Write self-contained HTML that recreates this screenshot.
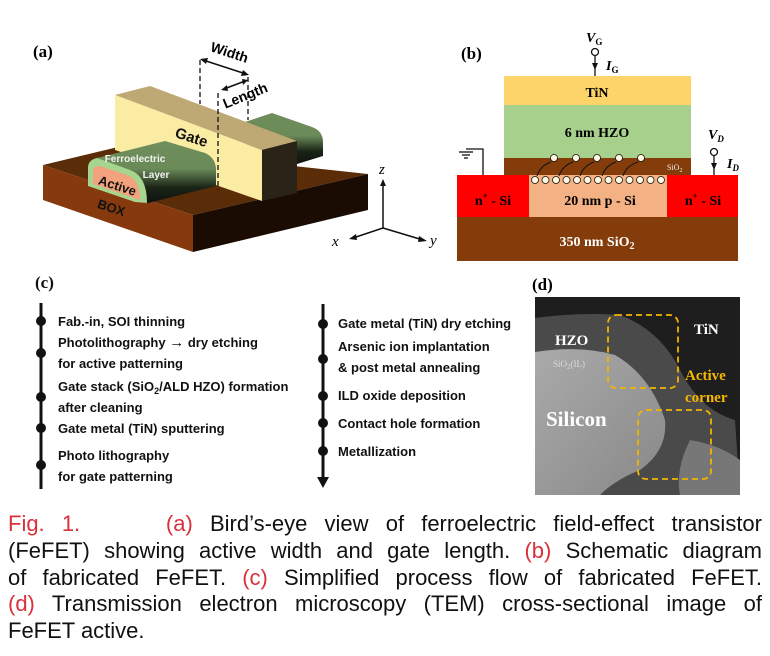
<!DOCTYPE html>
<html><head><meta charset="utf-8"><style>
html,body{margin:0;padding:0;background:#fff;}
#wrap{position:relative;width:770px;height:656px;overflow:hidden;}
svg{position:absolute;left:0;top:0;}
.cap{position:absolute;left:8px;top:511px;width:754px;font-family:"Liberation Sans",sans-serif;font-size:22px;line-height:26.8px;color:#111;}
.cap div{text-align:justify;text-align-last:justify;white-space:nowrap;}
.cap div.last{text-align-last:left;}
.r{color:#d9303c;}
</style></head><body>
<div id="wrap">
<svg width="770" height="656" viewBox="0 0 770 656" font-family="Liberation Sans, sans-serif">
<defs>
<linearGradient id="fin" x1="0" y1="0" x2="0" y2="1"><stop offset="0" stop-color="#6f8e5c"/><stop offset="0.45" stop-color="#6a8a58"/><stop offset="0.75" stop-color="#1a2416"/><stop offset="1" stop-color="#111"/></linearGradient>
<linearGradient id="tem" x1="0" y1="0" x2="1" y2="1"><stop offset="0" stop-color="#aaa"/><stop offset="1" stop-color="#888"/></linearGradient>
</defs>
<g>
<text x="33" y="57" font-family="Liberation Serif, serif" font-weight="bold" font-size="17">(a)</text>
<polygon points="43,165 118,147 368,174 193,215" fill="#5a2c08"/>
<polygon points="43,165 193,215 193,252 43,200" fill="#86390c"/>
<polygon points="193,215 368,174 368,210 193,252" fill="#1a0b03"/>
<path d="M245,122 L272,113 L312,127 Q323,131 323,142 L323,156 L297,164 L245,150 Z" fill="url(#fin)"/>
<polygon points="115,95 150,86 297,141 262,150" fill="#bea873"/>
<polygon points="115,95 262,150 262,201 115,150" fill="#fbeca3"/>
<polygon points="262,150 297,141 297,193 262,201" fill="#2a2418"/>
<path d="M88,168 Q88,160 97,158 L165,141 L205,153 Q216,158 216,170 L216,186 L148,203 L145,203 Q145,182 130,176 Z" fill="url(#fin)"/>
<path d="M88,168 Q88,160 97,158 L130,170 Q147,176 147,203 L135,202 L88,186 Z" fill="#a7d48e"/>
<path d="M93,171 Q93,166 100,166 L127,175 Q140,180 140,200 L93,184 Z" fill="#f2a27c"/>
<text x="135" y="162" font-size="10" font-weight="bold" fill="#f3f3f3" text-anchor="middle">Ferroelectric</text>
<text x="156" y="178" font-size="10" font-weight="bold" fill="#f3f3f3" text-anchor="middle">Layer</text>
<text x="116" y="190" font-size="13" font-weight="bold" fill="#111" transform="rotate(18 116 190)" text-anchor="middle">Active</text>
<text x="110" y="212" font-size="13" font-weight="bold" fill="#111" transform="rotate(18 110 212)" text-anchor="middle">BOX</text>
<text x="190" y="142" font-size="15" font-weight="bold" fill="#111" transform="rotate(18 190 142)" text-anchor="middle">Gate</text>
<g stroke="#111" stroke-width="1.3" stroke-dasharray="5,3" fill="none">
<line x1="200" y1="60" x2="200" y2="104"/><line x1="248" y1="77" x2="248" y2="120"/><line x1="218" y1="93" x2="218" y2="190"/>
</g>
<g stroke="#111" stroke-width="1.6"><line x1="203" y1="60" x2="246" y2="74"/><line x1="224" y1="89" x2="245" y2="81"/></g>
<polygon points="200,59 208,58 206,64" fill="#111"/><polygon points="249,75 241,76 243,70" fill="#111"/>
<polygon points="221,90 227,85 228,91" fill="#111"/><polygon points="248,80 242,79 243,85" fill="#111"/>
<text x="228" y="57" font-size="14" font-weight="bold" transform="rotate(18 228 57)" text-anchor="middle">Width</text>
<text x="247" y="100" font-size="14" font-weight="bold" transform="rotate(-22 247 100)" text-anchor="middle">Length</text>
<g stroke="#111" stroke-width="1.5">
<line x1="383" y1="228" x2="383" y2="183"/><line x1="383" y1="228" x2="353" y2="238"/><line x1="383" y1="228" x2="423" y2="240"/>
</g>
<polygon points="383,179 380,186 386,186" fill="#111"/><polygon points="349,239 356,234 357,240" fill="#111"/><polygon points="427,241 419,236 418,242" fill="#111"/>
<text x="379" y="174" font-family="Liberation Serif, serif" font-style="italic" font-size="15">z</text>
<text x="332" y="246" font-family="Liberation Serif, serif" font-style="italic" font-size="15">x</text>
<text x="430" y="245" font-family="Liberation Serif, serif" font-style="italic" font-size="15">y</text>
</g>
<g font-family="Liberation Serif, serif" font-weight="bold">
<text x="461" y="59" font-size="17">(b)</text>
<rect x="504" y="76" width="187" height="29" fill="#fcd469"/>
<rect x="504" y="105" width="187" height="53" fill="#a8d08d"/>
<rect x="504" y="158" width="187" height="17" fill="#843c0b"/>
<rect x="457" y="175" width="72" height="42" fill="#ff0000"/>
<rect x="529" y="175" width="138" height="42" fill="#f4b183"/>
<rect x="667" y="175" width="71" height="42" fill="#ff0000"/>
<rect x="457" y="217" width="281" height="44" fill="#843c0b"/>
<text x="597" y="97" font-size="14" text-anchor="middle">TiN</text>
<text x="597" y="137" font-size="14" text-anchor="middle">6 nm HZO</text>
<text x="667" y="170" font-size="8" fill="#eee" font-weight="normal">SiO<tspan font-size="6" dy="2">2</tspan></text>
<text x="493" y="205" font-size="14" text-anchor="middle">n<tspan font-size="9" dy="-6">+</tspan><tspan dy="6"> - Si</tspan></text>
<text x="600" y="205" font-size="14" text-anchor="middle">20 nm p - Si</text>
<text x="703" y="205" font-size="14" text-anchor="middle">n<tspan font-size="9" dy="-6">+</tspan><tspan dy="6"> - Si</tspan></text>
<text x="597" y="246" font-size="14" fill="#fff" text-anchor="middle">350 nm SiO<tspan font-size="10" dy="3">2</tspan></text>
<g stroke="#111" stroke-width="0.8" fill="#fff8e0">
<circle cx="535" cy="180" r="3.5"/><circle cx="545.5" cy="180" r="3.5"/><circle cx="556" cy="180" r="3.5"/><circle cx="566.5" cy="180" r="3.5"/><circle cx="577" cy="180" r="3.5"/><circle cx="587.5" cy="180" r="3.5"/><circle cx="598" cy="180" r="3.5"/><circle cx="608.5" cy="180" r="3.5"/><circle cx="619" cy="180" r="3.5"/><circle cx="629.5" cy="180" r="3.5"/><circle cx="640" cy="180" r="3.5"/><circle cx="650.5" cy="180" r="3.5"/><circle cx="661" cy="180" r="3.5"/>
<circle cx="554" cy="158" r="3.5"/><circle cx="576" cy="158" r="3.5"/><circle cx="597" cy="158" r="3.5"/><circle cx="619" cy="158" r="3.5"/><circle cx="641" cy="158" r="3.5"/>
</g>
<g stroke="#111" stroke-width="1" fill="none">
<path d="M537,176 Q540,166 551,162"/><path d="M559,176 Q562,166 573,162"/><path d="M580,176 Q583,166 594,162"/><path d="M602,176 Q605,166 616,162"/><path d="M623,176 Q626,166 638,162"/>
</g>
<g stroke="#111" stroke-width="1.3" fill="none">
<circle cx="595" cy="52" r="3.5" fill="#fff"/><line x1="595" y1="56" x2="595" y2="76"/>
<circle cx="714" cy="152" r="3.5" fill="#fff"/><line x1="714" y1="156" x2="714" y2="175"/>
<polyline points="483,175 483,149 466,149"/><line x1="459" y1="152" x2="473" y2="152"/><line x1="462" y1="155" x2="470" y2="155"/><line x1="464" y1="158" x2="468" y2="158"/>
</g>
<polygon points="592,63 598,63 595,70" fill="#111"/><polygon points="711,163 717,163 714,170" fill="#111"/>
<text x="586" y="42" font-size="14" font-style="italic">V<tspan font-size="9" dy="3" font-style="normal">G</tspan></text>
<text x="606" y="70" font-size="14" font-style="italic">I<tspan font-size="9" dy="3" font-style="normal">G</tspan></text>
<text x="708" y="139" font-size="14" font-style="italic">V<tspan font-size="9" dy="3">D</tspan></text>
<text x="727" y="168" font-size="14" font-style="italic">I<tspan font-size="9" dy="3">D</tspan></text>
</g>
<g font-size="13" font-weight="bold" fill="#111">
<text x="35" y="288" font-family="Liberation Serif, serif" font-size="17">(c)</text>
<line x1="41" y1="303" x2="41" y2="489" stroke="#111" stroke-width="3"/>
<g fill="#111"><circle cx="41" cy="321" r="5"/><circle cx="41" cy="353" r="5"/><circle cx="41" cy="397" r="5"/><circle cx="41" cy="428" r="5"/><circle cx="41" cy="465" r="5"/></g>
<text x="58" y="326">Fab.-in, SOI thinning</text>
<text x="58" y="347">Photolithography <tspan font-size="15">→</tspan> dry etching</text>
<text x="58" y="368">for active patterning</text>
<text x="58" y="391">Gate stack (SiO<tspan font-size="9" dy="3">2</tspan><tspan dy="-3">/ALD HZO) formation</tspan></text>
<text x="58" y="412">after cleaning</text>
<text x="58" y="433">Gate  metal (TiN) sputtering</text>
<text x="58" y="460">Photo lithography</text>
<text x="58" y="481">for gate patterning</text>
<line x1="323" y1="304" x2="323" y2="478" stroke="#111" stroke-width="3"/>
<polygon points="317,477 329,477 323,488" fill="#111"/>
<g fill="#111"><circle cx="323" cy="324" r="5"/><circle cx="323" cy="359" r="5"/><circle cx="323" cy="396" r="5"/><circle cx="323" cy="423" r="5"/><circle cx="323" cy="451" r="5"/></g>
<text x="338" y="328">Gate metal (TiN) dry etching</text>
<text x="338" y="351">Arsenic ion implantation</text>
<text x="338" y="372">&amp; post metal annealing</text>
<text x="338" y="400">ILD oxide deposition</text>
<text x="338" y="428">Contact hole formation</text>
<text x="338" y="456">Metallization</text>
</g>
<g>
<text x="532" y="290" font-family="Liberation Serif, serif" font-weight="bold" font-size="17">(d)</text>
<rect x="535" y="297" width="205" height="198" fill="#1e1e1e"/>
<path d="M535,318 Q580,312 620,315 Q660,330 680,370 Q700,410 735,420 L740,495 L535,495 Z" fill="#4a4a4a"/>
<path d="M535,352 Q580,345 615,355 Q650,375 665,420 Q668,450 640,470 Q615,480 600,495 L535,495 Z" fill="url(#tem)"/>
<path d="M690,440 Q720,445 740,460 L740,495 L680,495 Q675,470 690,440 Z" fill="#777"/>
<text x="555" y="345" font-family="Liberation Serif, serif" font-weight="bold" font-size="15" fill="#fff">HZO</text>
<text x="553" y="367" font-family="Liberation Serif, serif" font-size="9" fill="#ddd">SiO<tspan font-size="7" dy="2">2</tspan><tspan dy="-2">(IL)</tspan></text>
<text x="694" y="334" font-family="Liberation Serif, serif" font-weight="bold" font-size="15" fill="#fff">TiN</text>
<text x="546" y="426" font-family="Liberation Serif, serif" font-weight="bold" font-size="21" fill="#fff">Silicon</text>
<text x="685" y="380" font-family="Liberation Serif, serif" font-weight="bold" font-size="15" fill="#f5b800">Active</text>
<text x="685" y="402" font-family="Liberation Serif, serif" font-weight="bold" font-size="15" fill="#f5b800">corner</text>
<g fill="none" stroke="#f2b400" stroke-width="1.8" stroke-dasharray="6,4">
<rect x="608" y="315" width="70" height="73" rx="8"/>
<rect x="638" y="410" width="73" height="69" rx="8"/>
</g>
</g>
</svg>
<div class="cap">
<div><span class="r">Fig. 1.&nbsp;&nbsp;&nbsp;&nbsp; (a)</span> Bird’s-eye view of ferroelectric field-effect transistor</div>
<div>(FeFET) showing active width and gate length. <span class="r">(b)</span> Schematic diagram</div>
<div>of fabricated FeFET. <span class="r">(c)</span> Simplified process flow of fabricated FeFET.</div>
<div><span class="r">(d)</span> Transmission electron microscopy (TEM) cross-sectional image of</div>
<div class="last">FeFET active.</div>
</div>
</div>
</body></html>
